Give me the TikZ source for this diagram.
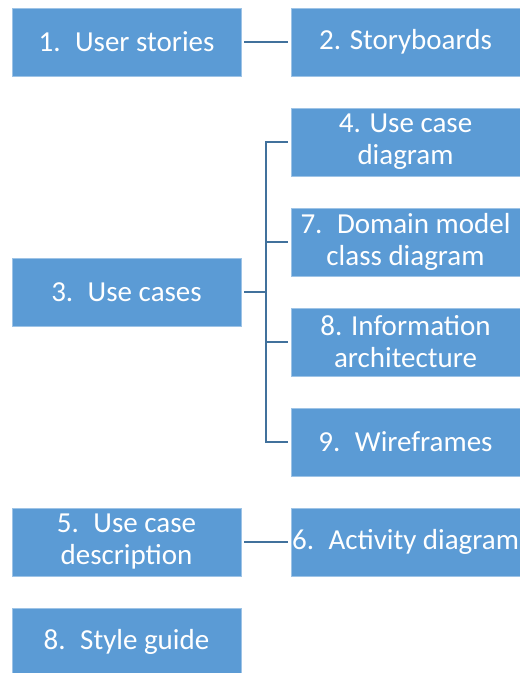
\documentclass[tikz,border=0pt]{standalone}
\usepackage{fontspec}
\setmainfont{Carlito}
\definecolor{boxfill}{HTML}{5B9BD5}
\definecolor{boxline}{HTML}{9DC3E6}
\definecolor{conn}{HTML}{41719C}
\newcommand{\gap}{\hspace{0.5em}}
\begin{document}
\begin{tikzpicture}[x=1bp,y=-1bp,
  box/.style={draw=boxline, line width=0.8bp, fill=boxfill, text=white,
    minimum width=229bp, minimum height=68bp, inner sep=0pt, align=center,
    font=\fontsize{29bp}{32bp}\selectfont},
  link/.style={draw=conn, line width=2.8bp}]
\useasboundingbox (0,0) rectangle (520,673);
\node[box] (b1) at (126.5,42) {1.\gap User stories};
\node[box] (b2) at (405.5,42) {2. Storyboards};
\node[box] (b4) at (405.5,142) {4. Use case\\diagram};
\node[box] (b7) at (405.5,242) {7.\gap Domain model\\class diagram};
\node[box] (b8) at (405.5,342) {8. Information\\architecture};
\node[box] (b9) at (405.5,442) {9.\gap Wireframes};
\node[box] (b3) at (126.5,292) {3.\gap Use cases};
\node[box] (b5) at (126.5,542) {5.\gap Use case\\description};
\node[box] (b6) at (405.5,542) {6.\gap Activity diagram};
\node[box] (b10) at (126.5,642) {8.\gap Style guide};
\coordinate (bus) at (266,292);
\draw[link] ([xshift=3bp]b1.east) -- ([xshift=-3bp]b2.west);
\draw[link] ([xshift=3bp]b3.east) -- (bus);
\draw[link] ([xshift=-3bp]b4.west) -| (bus) |- ([xshift=-3bp]b9.west);
\draw[link] (bus |- b7.west) -- ([xshift=-3bp]b7.west);
\draw[link] (bus |- b8.west) -- ([xshift=-3bp]b8.west);
\draw[link] ([xshift=3bp]b5.east) -- ([xshift=-3bp]b6.west);
\end{tikzpicture}
\end{document}
